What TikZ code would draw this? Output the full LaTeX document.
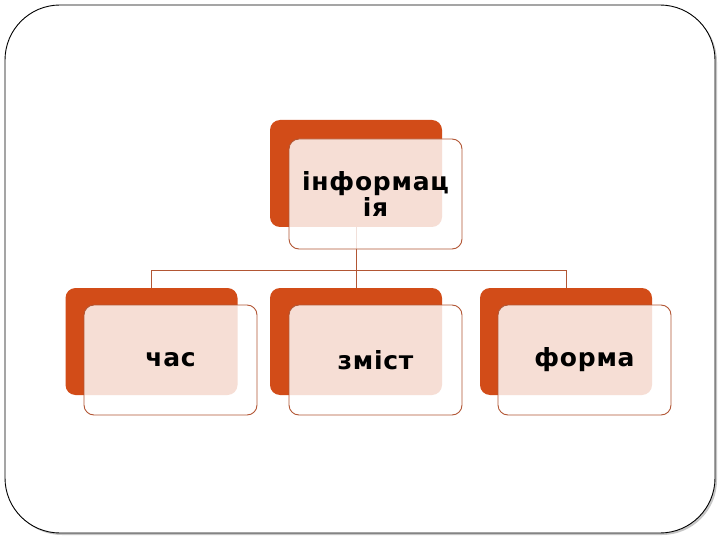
\documentclass[tikz,border=0pt]{standalone}
\usepackage{fontspec}
\setmainfont{DejaVu Sans}
\definecolor{rust}{RGB}{210,76,24}
\definecolor{rim}{RGB}{178,86,52}
\tikzset{
  backbox/.style={fill=rust, rounded corners=10pt, minimum width=172pt, minimum height=107pt, inner sep=0pt},
  frontbox/.style={draw=rim, line width=0.9pt, fill=white, fill opacity=0.82, text opacity=1, rounded corners=10pt,
    minimum width=173pt, minimum height=110pt, inner sep=0pt, align=center,
    font=\bfseries\fontsize{25}{26.5}\selectfont\addfontfeatures{LetterSpace=3}},
  link/.style={draw=rim, line width=0.7pt}
}
\begin{document}
\begin{tikzpicture}[x=1pt, y=-1pt]

\useasboundingbox (0,0) rectangle (720,540);

% frame with shadow
\fill [gray!45, rounded corners=55pt] (7,7) rectangle (717,535);
\draw [fill=white, line width=0.9pt, rounded corners=55pt] (5,5) rectangle (715,533);

% orange boxes
\node [backbox] (infob) at (356,173.5) {};
\node [backbox] (chasb) at (151.5,341.5) {};
\node [backbox] (zmistb) at (356,341.5) {};
\node [backbox] (formab) at (566,341.5) {};

% tree lines
\coordinate (fork) at (356,270);
\draw [link] (infob.south) -- (fork);
\draw [link] (fork) -| (chasb.north);
\draw [link] (fork) -| (formab.north);
\draw [link] (fork) -- (zmistb.north);

% front boxes
\node [frontbox] (info) at (375.5,194) {інформац\\ія};
\node [frontbox] (chas) at (170.5,360) {час};
\node [frontbox] (zmist) at (375.5,360) {зміст};
\node [frontbox] (forma) at (584.5,360) {форма};
\end{tikzpicture}
\end{document}
